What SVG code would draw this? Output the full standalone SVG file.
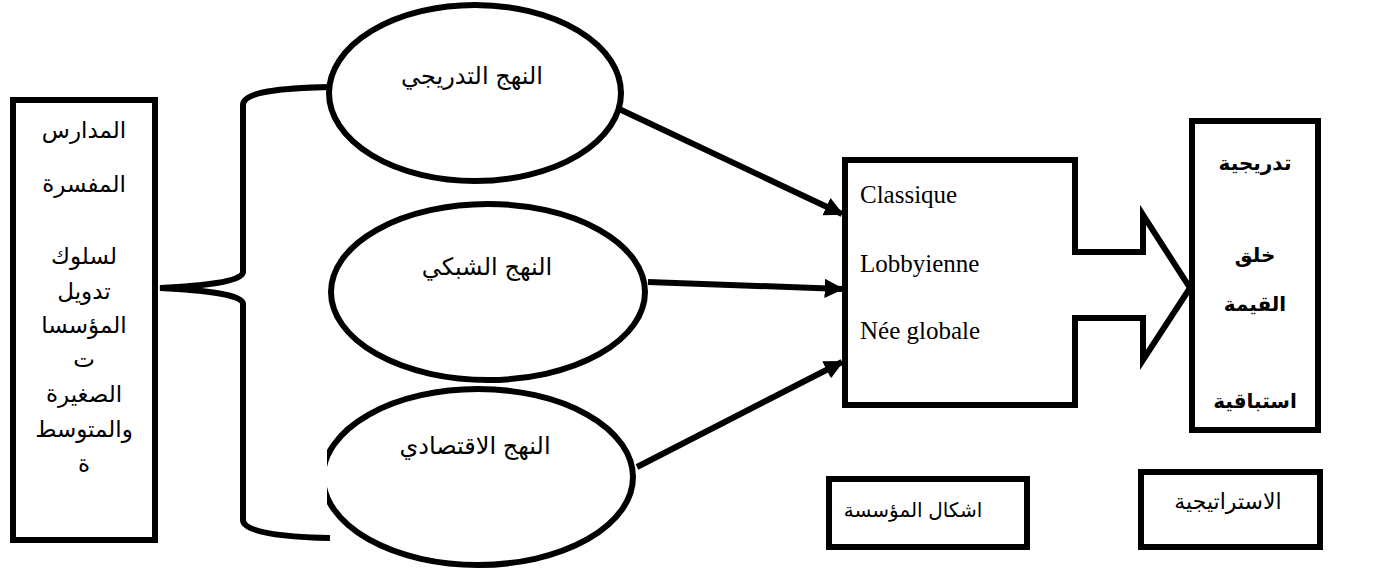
<svg xmlns="http://www.w3.org/2000/svg" width="1373" height="569" viewBox="0 0 1373 569">
  <style>
    .shape { fill: #fff; stroke: #000; stroke-width: 6; }
    .line { fill: none; stroke: #000; stroke-width: 6; }
    .ar { font-family: "Liberation Sans", "DejaVu Sans", Arial, sans-serif; font-size: 23px; fill: #000; text-anchor: middle; direction: rtl; }
    .oval { font-size: 24px; }
    .cap { font-size: 20px; }
    .arb { font-family: "Liberation Sans", "DejaVu Sans", Arial, sans-serif; font-size: 20px; font-weight: bold; fill: #000; text-anchor: middle; direction: rtl; }
    .fr { font-family: "Liberation Serif", "Times New Roman", serif; font-size: 25px; fill: #000; }
  </style>
  <defs>
    <marker id="head" viewBox="0 0 10 10" refX="9" refY="5" markerWidth="3.2" markerHeight="3.2" orient="auto" markerUnits="strokeWidth">
      <path d="M0,0 L10,5 L0,10 Z" fill="#000"/>
    </marker>
    <clipPath id="cut-left">
      <rect x="327" y="380" width="400" height="189"/>
    </clipPath>
  </defs>

  <rect width="1373" height="569" fill="#fff"/>

  <!-- schools box -->
  <g id="schools">
    <rect class="shape" x="13" y="100" width="142" height="440"/>
    <text class="ar" x="84" y="138">المدارس</text>
    <text class="ar" x="84" y="192">المفسرة</text>
    <text class="ar" x="84" y="264">لسلوك</text>
    <text class="ar" x="84" y="299">تدويل</text>
    <text class="ar" x="84" y="333">المؤسسا</text>
    <text class="ar" x="84" y="367">ت</text>
    <text class="ar" x="84" y="402">الصغيرة</text>
    <text class="ar" x="84" y="437">والمتوسط</text>
    <text class="ar" x="84" y="472">ة</text>
  </g>

  <!-- approaches -->
  <g id="gradual">
    <ellipse class="shape" cx="475" cy="93" rx="146" ry="88"/>
    <text class="ar oval" x="472" y="84">النهج التدريجي</text>
  </g>
  <g id="network">
    <ellipse class="shape" cx="488" cy="292" rx="157" ry="88"/>
    <text class="ar oval" x="487" y="275">النهج الشبكي</text>
  </g>
  <g id="economic">
    <ellipse class="shape" cx="478" cy="477" rx="155" ry="88" clip-path="url(#cut-left)"/>
    <text class="ar oval" x="475" y="454">النهج الاقتصادي</text>
  </g>

  <!-- firm forms with block arrow -->
  <g id="forms">
    <path class="shape" d="M845,160 H1075 V252 H1143 V215 L1190,288 L1143,360 V318 H1075 V405 H845 Z"/>
    <text class="fr" x="860" y="203">Classique</text>
    <text class="fr" x="860" y="272">Lobbyienne</text>
    <text class="fr" x="860" y="339">Née globale</text>
  </g>

  <!-- strategy box -->
  <g id="strategy">
    <rect class="shape" x="1192" y="121" width="126" height="309"/>
    <text class="arb" x="1255" y="170">تدريجية</text>
    <text class="arb" x="1255" y="262">خلق</text>
    <text class="arb" x="1255" y="311">القيمة</text>
    <text class="arb" x="1255" y="408">استباقية</text>
  </g>

  <!-- captions -->
  <g id="forms-caption">
    <rect class="shape" x="829" y="479" width="198" height="68"/>
    <text class="ar cap" x="913" y="517">اشكال المؤسسة</text>
  </g>
  <g id="strategy-caption">
    <rect class="shape" x="1141" y="472" width="179" height="75"/>
    <text class="ar" x="1228" y="509" style="font-size:22px">الاستراتيجية</text>
  </g>

  <!-- connectors -->
  <g id="connectors">
    <path class="line" d="M330,87 C280,88 243,92 243,105 V272 C243,282 200,286 160,288 C200,290 243,294 243,304 V520 C243,532 280,537 330,538"/>
    <line class="line" x1="617" y1="108" x2="842" y2="214" marker-end="url(#head)"/>
    <line class="line" x1="648" y1="282" x2="842" y2="289" marker-end="url(#head)"/>
    <line class="line" x1="637" y1="467" x2="842" y2="362" marker-end="url(#head)"/>
  </g>
</svg>
